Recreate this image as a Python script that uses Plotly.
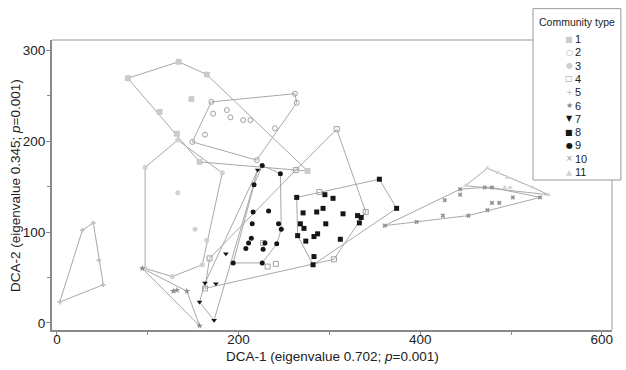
import plotly.graph_objects as go

# ---------------- data (DCA scores per community type) ----------------
community_types = ["1", "2", "3", "4", "5", "6", "7", "8", "9", "10", "11"]

ct1_x = [78, 134, 165, 276, 157, 132, 113, 148]
ct1_y = [269, 287, 273, 167, 177, 208, 232, 246]

ct2_x = [170, 262, 264, 220, 149, 172, 187, 191, 205, 213, 163, 240]
ct2_y = [243, 252, 242, 179, 199, 230, 234, 226, 223, 223, 207, 214]

ct3_x = [97, 133, 182, 165, 160, 127, 97, 133, 152]
ct3_y = [171, 201, 165, 91, 64, 51, 60, 143, 103]

ct4_x = [308, 340, 305, 163, 168, 232, 241, 227, 289, 263]
ct4_y = [213, 122, 70, 38, 71, 62, 65, 88, 144, 168]

ct5_x = [3, 28, 40, 51, 46]
ct5_y = [23, 102, 110, 42, 69]

ct6_x = [94, 128, 132, 143, 157]
ct6_y = [60, 35, 36, 35, -3]

ct7_x = [221, 173, 157, 163, 175, 186]
ct7_y = [168, 3, 23, 44, 43, 76]

ct8_x = [355, 374, 295, 304, 315, 331, 335, 333, 296, 312, 287, 283, 274, 265,
         272, 268, 271, 286, 293, 264, 283, 282]
ct8_y = [158, 126, 141, 137, 120, 118, 116, 110, 109, 92, 98, 95, 90, 96,
         104, 109, 121, 122, 126, 138, 73, 64]

ct9_x = [226, 246, 217, 233, 216, 215, 244, 247, 214, 211, 229, 242, 227, 208, 226, 194]
ct9_y = [173, 164, 152, 123, 122, 109, 109, 103, 93, 88, 88, 87, 81, 82, 66, 66]

ct10_x = [361, 396, 425, 453, 474, 487, 479, 427, 444, 444, 471, 479, 502, 532]
ct10_y = [107, 111, 118, 118, 124, 132, 132, 135, 141, 147, 149, 149, 138, 138]

ct11_x = [450, 474, 486, 496, 524, 541, 493, 499]
ct11_y = [151, 170, 165, 160, 149, 141, 149, 149]

xs_all = [ct1_x, ct2_x, ct3_x, ct4_x, ct5_x, ct6_x, ct7_x, ct8_x, ct9_x, ct10_x, ct11_x]
ys_all = [ct1_y, ct2_y, ct3_y, ct4_y, ct5_y, ct6_y, ct7_y, ct8_y, ct9_y, ct10_y, ct11_y]

x_ticks = [0, 200, 400, 600]
y_ticks = [0, 100, 200, 300]

# ---------------- styles ----------------
HULL = "#a8a8a8"
styles = [
    dict(symbol="square", color="#cccccc", size=5, line=dict(color="#b4b4b4", width=0.5)),
    dict(symbol="circle-open", color="#a0a0a0", size=5, line=dict(width=1)),
    dict(symbol="circle", color="#d0d0d0", size=5),
    dict(symbol="square-open", color="#a0a0a0", size=5, line=dict(width=1)),
    dict(symbol="cross", color="#c0c0c0", size=4),
    dict(symbol="star", color="#8a8a8a", size=5),
    dict(symbol="triangle-down", color="#161616", size=5),
    dict(symbol="square", color="#161616", size=5),
    dict(symbol="circle", color="#161616", size=5),
    dict(symbol="x", color="#909090", size=4),
    dict(symbol="triangle-up", color="#d4d4d4", size=5),
]
# glyphs used for the key in the legend box (same shapes/colours as the markers)
key_glyphs = ["\u25A0", "\u25CB", "\u25CF", "\u25A1", "+", "\u2605", "\u25BC",
              "\u25A0", "\u25CF", "\u00D7", "\u25B2"]


def convex_hull(xs, ys):
    pts = sorted(set(zip(xs, ys)))
    if len(pts) < 3:
        return pts

    def cross(o, a, b):
        return (a[0] - o[0]) * (b[1] - o[1]) - (a[1] - o[1]) * (b[0] - o[0])

    lower = []
    for p in pts:
        while len(lower) >= 2 and cross(lower[-2], lower[-1], p) <= 0:
            lower.pop()
        lower.append(p)
    upper = []
    for p in reversed(pts):
        while len(upper) >= 2 and cross(upper[-2], upper[-1], p) <= 0:
            upper.pop()
        upper.append(p)
    h = lower[:-1] + upper[:-1]
    return h + [h[0]]


# ---------------- geometry ----------------
W, H = 626, 370
ML, MR, MT, MB = 52, 4, 8, 40
pw, ph = W - ML - MR, H - MT - MB
X_RANGE = [-5.5, 611.2]
Y_RANGE = [-7.7, 311]
main_x1 = (612 - ML) / pw
main_y1 = (330 - 40) / ph
leg_x0 = (533 - ML) / pw
leg_y0 = (330 - 180) / ph


def px_x(px):
    return (px - ML) / pw


def px_y(py):
    return (H - MB - py) / ph


fig = go.Figure()

for xs, ys in zip(xs_all, ys_all):
    h = convex_hull(xs, ys)
    fig.add_trace(go.Scatter(x=[p[0] for p in h], y=[p[1] for p in h], mode="lines",
                             line=dict(color=HULL, width=1), hoverinfo="skip",
                             showlegend=False))
for name, xs, ys, st in zip(community_types, xs_all, ys_all, styles):
    fig.add_trace(go.Scatter(x=xs, y=ys, mode="markers", name=name, marker=st,
                             showlegend=False))

FONT = "Liberation Sans, Arial, sans-serif"
AX = "#8a8a8a"

annotations = [
    dict(text="Community type", xref="paper", yref="paper",
         x=px_x(577), y=px_y(22), showarrow=False,
         xanchor="center", yanchor="middle", font=dict(size=10.5, color="#222")),
    dict(text="DCA-1 (eigenvalue 0.702; <i>p</i>=0.001)", xref="paper", yref="paper",
         x=px_x(332), y=px_y(356), showarrow=False,
         xanchor="center", yanchor="middle", font=dict(size=13.5, color="#222")),
    dict(text="DCA-2 (eigenvalue 0.345; <i>p</i>=0.001)", xref="paper", yref="paper",
         x=px_x(15), y=px_y(186), showarrow=False, textangle=-90,
         xanchor="center", yanchor="middle", font=dict(size=13.5, color="#222")),
]
# legend key rows
for i, (name, st, g) in enumerate(zip(community_types, styles, key_glyphs)):
    row_py = 39 + 13.3 * i
    annotations.append(dict(text=g, xref="paper", yref="paper", x=px_x(569), y=px_y(row_py),
                            showarrow=False, xanchor="center", yanchor="middle",
                            font=dict(family="DejaVu Sans", size=8, color=st["color"])))
    annotations.append(dict(text=name, xref="paper", yref="paper", x=px_x(573), y=px_y(row_py),
                            showarrow=False, xanchor="left", yanchor="middle",
                            font=dict(family=FONT, size=11, color="#222")))

fig.update_layout(
    width=W, height=H,
    margin=dict(l=ML, r=MR, t=MT, b=MB, autoexpand=False),
    paper_bgcolor="white", plot_bgcolor="rgba(0,0,0,0)",
    font=dict(family=FONT, size=13, color="#222"),
    showlegend=False,
    xaxis=dict(domain=[0, main_x1], range=X_RANGE, tickvals=x_ticks, automargin=False,
               showgrid=False, zeroline=False, showline=True, linecolor=AX, linewidth=2,
               ticks="outside", ticklen=4, tickcolor=AX, tickwidth=1,
               ticklabelstandoff=-8,
               minor=dict(dtick=100, ticks="outside", ticklen=3, tickcolor=AX, showgrid=False),
               tickfont=dict(size=13.5)),
    yaxis=dict(domain=[0, main_y1], range=Y_RANGE, tickvals=y_ticks, automargin=False,
               showgrid=False, zeroline=False, showline=True, linecolor=AX, linewidth=2,
               ticks="outside", ticklen=4, tickcolor=AX, tickwidth=1,
               ticklabelstandoff=-2,
               minor=dict(dtick=50, ticks="outside", ticklen=3, tickcolor=AX, showgrid=False),
               tickfont=dict(size=13.5)),
    shapes=[
        dict(type="line", xref="paper", yref="paper", x0=0, x1=main_x1, y0=main_y1, y1=main_y1,
             line=dict(color="#9a9a9a", width=1), layer="below"),
        dict(type="line", xref="paper", yref="paper", x0=main_x1, x1=main_x1, y0=0, y1=main_y1,
             line=dict(color="#9a9a9a", width=1), layer="below"),
        dict(type="rect", xref="paper", yref="paper", x0=leg_x0, x1=0.998, y0=leg_y0, y1=0.998,
             fillcolor="white", line=dict(color="#9a9a9a", width=1), layer="below"),
    ],
    annotations=annotations,
)

fig.write_html("out.html", config={"displayModeBar": False, "staticPlot": True},
               post_script="document.body.style.margin='0';document.body.style.padding='0';")
